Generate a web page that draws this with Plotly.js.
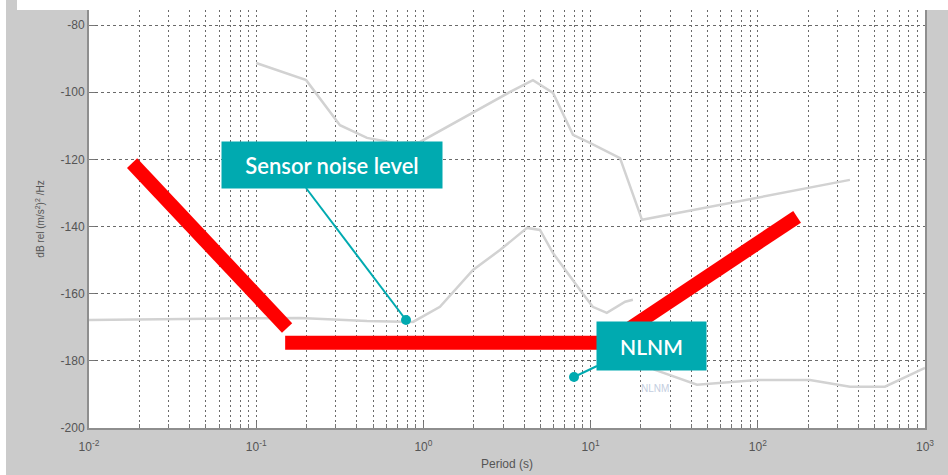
<!DOCTYPE html>
<html>
<head>
<meta charset="utf-8">
<script src="https://cdn.plot.ly/plotly-3.0.1.min.js"></script>
<style>html,body{margin:0;padding:0;background:#fff;}#chart{width:948px;height:475px;}</style>
</head>
<body>
<div id="chart"></div>
<script>
// ---- data ----
// red "model" segments
const redSeg1Period = [0.0181, 0.153];
const redSeg1Level  = [-121.1, -170.2];
const redSeg2Period = [0.149, 13.4];
const redSeg2Level  = [-174.6, -174.6];
const redSeg3Period = [12.2, 171.8];
const redSeg3Level  = [-175.2, -137.1];

// upper grey curve
const upperPeriod = [0.1, 0.199, 0.317, 0.46, 0.676, 0.955, 3.3, 4.52, 5.96, 7.85, 9.9, 15.0, 20.3, 355.6];
const upperLevel  = [-91.3, -96.4, -109.8, -113.6, -115.1, -114.8, -99.9, -96.4, -100.2, -112.7, -115.1, -119.6, -138.0, -126.1];

// sensor noise grey curve
const noisePeriod = [0.01, 0.183, 0.46, 0.867, 1.256, 1.98, 2.87, 4.17, 4.98, 5.96, 8.65, 10.3, 12.5, 16.1, 17.9];
const noiseLevel  = [-167.8, -167.2, -168.1, -168.4, -163.9, -152.9, -147.0, -140.4, -141.0, -147.9, -158.9, -163.9, -165.7, -162.4, -161.8];

// NLNM grey curve
const nlnmPeriod = [19.7, 24.3, 43.3, 98.9, 205, 356, 576, 1000];
const nlnmLevel  = [-180.3, -182.7, -187.1, -185.7, -185.7, -187.7, -187.7, -182.1];

// ticks
const xTickVals  = [0.01, 0.1, 1, 10, 100, 1000];
const xTickText  = ['10<sup>-2</sup>', '10<sup>-1</sup>', '10<sup>0</sup>', '10<sup>1</sup>', '10<sup>2</sup>', '10<sup>3</sup>'];
const yTickVals  = [-200, -180, -160, -140, -120, -100, -80];
const yTickText  = ['-200', '-180', '-160', '-140', '-120', '-100', '-80'];

// labels
const xTitle = 'Period (s)';
const yTitle = 'dB rel (m/s<sup>2</sup>)<sup>2</sup> /Hz';
const calloutSensor = 'Sensor noise level';
const calloutNlnm = 'NLNM';
const inPlotNlnm = 'NLNM';

// ---- styling ----
const grey = '#d2d2d2';
const red = '#ff0000';
const teal = '#00aab0';

const minorVals = [];
for (let e = -2; e < 3; e++) {
  for (let m = 2; m <= 9; m++) minorVals.push(m * Math.pow(10, e));
}

const traces = [
  {x: upperPeriod, y: upperLevel, mode: 'lines', line: {color: grey, width: 2.5}},
  {x: noisePeriod, y: noiseLevel, mode: 'lines', line: {color: grey, width: 2.5}},
  {x: nlnmPeriod, y: nlnmLevel, mode: 'lines', line: {color: grey, width: 2.5}},
  {x: redSeg1Period, y: redSeg1Level, mode: 'lines', line: {color: red, width: 14}},
  {x: redSeg2Period, y: redSeg2Level, mode: 'lines', line: {color: red, width: 14}},
  {x: redSeg3Period, y: redSeg3Level, mode: 'lines', line: {color: red, width: 14}}
];

const W = 836, H = 418, L = 89, B = 428;
const px = v => (v - L) / W;
const py = v => (B - v) / H;

const layout = {
  width: 948, height: 475,
  margin: {l: 89, r: 23, t: 10, b: 47},
  paper_bgcolor: '#cbcbcb',
  plot_bgcolor: '#ffffff',
  showlegend: false,
  font: {family: 'Liberation Sans, Arial, sans-serif', color: '#555555', size: 12},
  xaxis: {
    type: 'log', range: [-2, 3],
    tickvals: xTickVals, ticktext: xTickText,
    showgrid: true, gridcolor: '#6a6a6a', griddash: '2px,3px', gridwidth: 1,
    minor: {tickvals: minorVals, showgrid: true, gridcolor: '#6a6a6a', griddash: '2px,3px', gridwidth: 1, ticks: 'inside', ticklen: 4, tickcolor: '#777'},
    ticks: 'inside', ticklen: 6, tickcolor: '#777',
    ticklabelstandoff: 7,
    showline: true, linecolor: '#8e8e8e', linewidth: 2, mirror: true,
    zeroline: false,
    tickfont: {size: 12, color: '#555'},
    title: {text: xTitle, font: {size: 12, color: '#555'}, standoff: 6}
  },
  yaxis: {
    range: [-200, -75.5],
    tickvals: yTickVals, ticktext: yTickText,
    showgrid: true, gridcolor: '#6a6a6a', griddash: '3px,3px', gridwidth: 1,
    ticks: 'inside', ticklen: 6, tickcolor: '#777',
    showline: true, linecolor: '#8e8e8e', linewidth: 2, mirror: true,
    zeroline: false,
    tickfont: {size: 12, color: '#555'},
    title: {text: yTitle, font: {size: 10, color: '#555'}, standoff: 14}
  },
  shapes: [
    // white strips of the cropped picture frame
    {type: 'rect', xref: 'paper', yref: 'paper', x0: px(-5), x1: px(6), y0: py(480), y1: py(-5), fillcolor: '#ffffff', line: {width: 0}, layer: 'above'},
    {type: 'rect', xref: 'paper', yref: 'paper', x0: px(17), x1: px(955), y0: py(10), y1: py(-5), fillcolor: '#ffffff', line: {width: 0}, layer: 'above'},
    // callout connectors
    {type: 'line', xref: 'paper', yref: 'paper', x0: px(306), y0: py(188), x1: px(406), y1: py(320), line: {color: teal, width: 2}, layer: 'above'},
    {type: 'circle', xref: 'paper', yref: 'paper', xsizemode: 'pixel', ysizemode: 'pixel', xanchor: px(406), yanchor: py(320), x0: -5, x1: 5, y0: -5, y1: 5, fillcolor: teal, line: {width: 0}, layer: 'above'},
    {type: 'line', xref: 'paper', yref: 'paper', x0: px(597), y0: py(366), x1: px(574), y1: py(377), line: {color: teal, width: 2}, layer: 'above'},
    {type: 'circle', xref: 'paper', yref: 'paper', xsizemode: 'pixel', ysizemode: 'pixel', xanchor: px(574), yanchor: py(377), x0: -5, x1: 5, y0: -5, y1: 5, fillcolor: teal, line: {width: 0}, layer: 'above'}
  ],
  annotations: [
    {xref: 'paper', yref: 'paper', x: px(332), y: py(165), xanchor: 'center', yanchor: 'middle', text: calloutSensor, showarrow: false,
     bgcolor: teal, width: 220, height: 46, borderpad: 0, align: 'center', valign: 'middle',
     font: {family: 'Lato, sans-serif', size: 22, color: '#ffffff', weight: 600}},
    {xref: 'paper', yref: 'paper', x: px(651.5), y: py(346), xanchor: 'center', yanchor: 'middle', text: calloutNlnm, showarrow: false,
     bgcolor: teal, width: 109, height: 48, borderpad: 0, align: 'center', valign: 'middle',
     font: {family: 'Lato, sans-serif', size: 21, color: '#ffffff', weight: 600}},
    {xref: 'paper', yref: 'paper', x: px(655), y: py(388), xanchor: 'center', yanchor: 'middle', text: inPlotNlnm, showarrow: false,
     font: {family: 'Liberation Sans, Arial, sans-serif', size: 10, color: '#c3cde0'}}
  ]
};

Plotly.newPlot('chart', traces, layout, {staticPlot: true, displayModeBar: false});
</script>
</body>
</html>
